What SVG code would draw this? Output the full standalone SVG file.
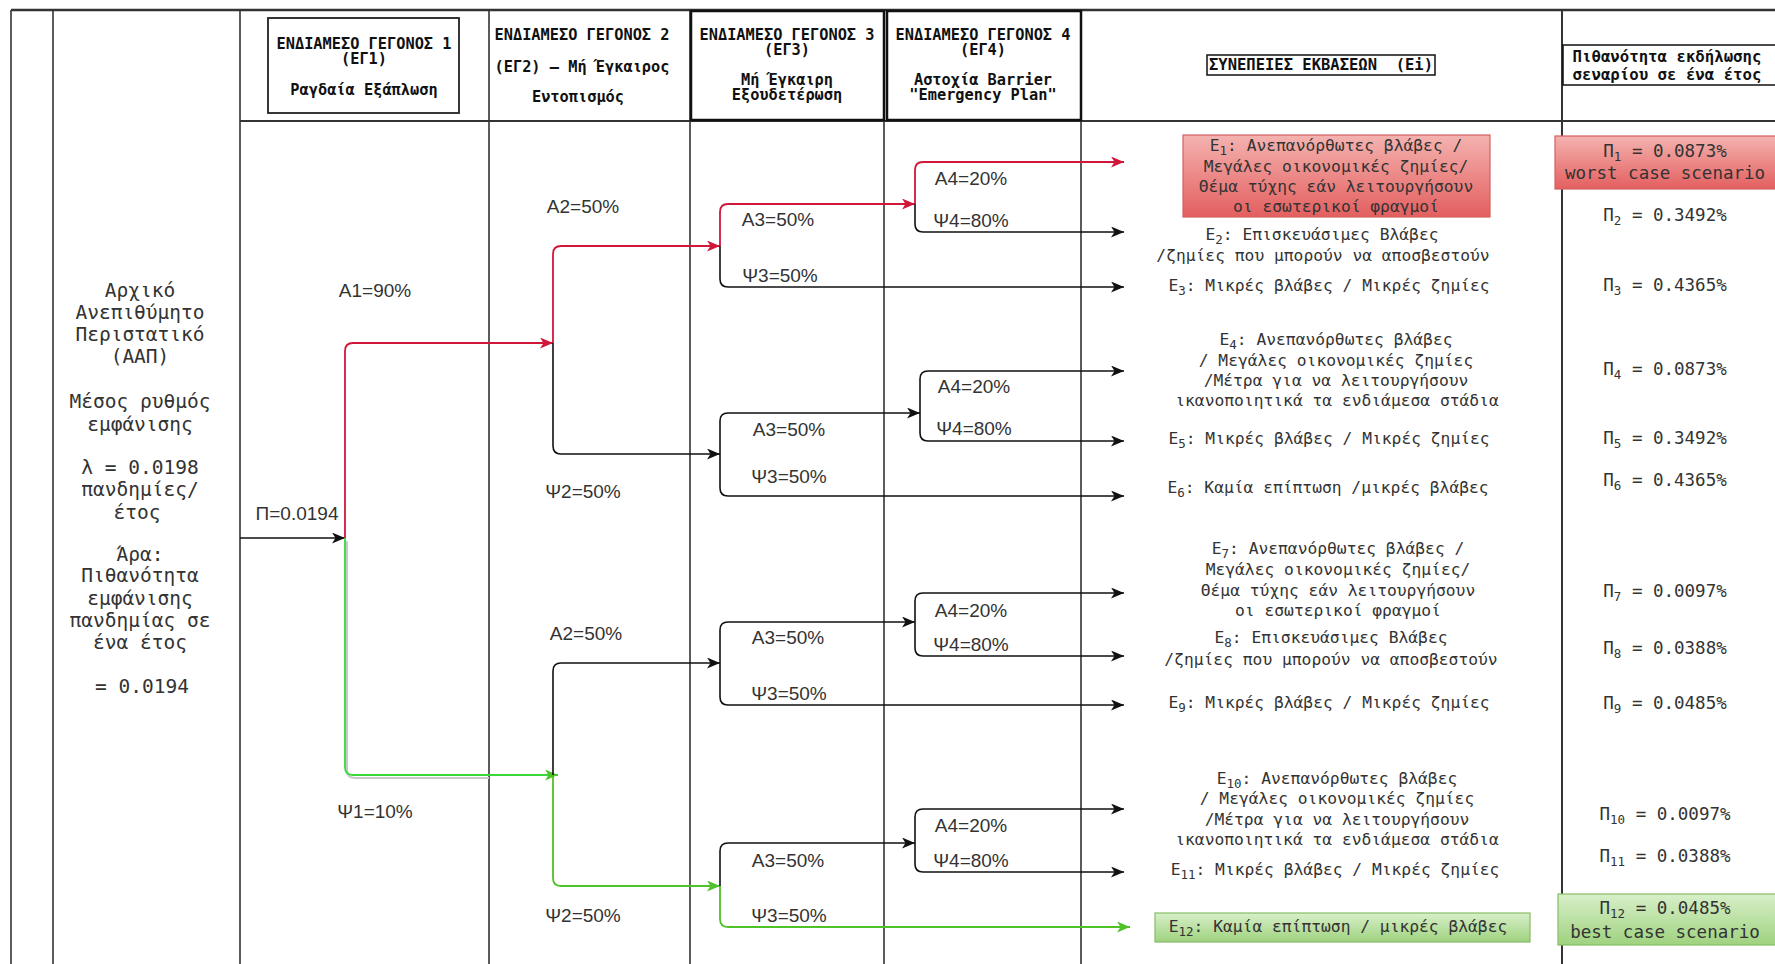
<svg xmlns="http://www.w3.org/2000/svg" width="1775" height="964" viewBox="0 0 1775 964">
<style>
.grid{stroke:#333;stroke-width:1.6;fill:none}
.hdr{font-family:"DejaVu Sans Mono","Liberation Mono",monospace;font-size:15.3px;font-weight:bold;fill:#111;text-anchor:middle}
.left{font-family:"DejaVu Sans Mono","Liberation Mono",monospace;font-size:19.5px;fill:#333;text-anchor:middle}
.et{font-family:"DejaVu Sans Mono","Liberation Mono",monospace;font-size:16.3px;fill:#333;text-anchor:middle}
.pt{font-family:"DejaVu Sans Mono","Liberation Mono",monospace;font-size:17.5px;fill:#333;text-anchor:middle}
.lbl{font-family:"Liberation Sans",Arial,sans-serif;font-size:19px;fill:#333;text-anchor:middle}
.blk{stroke:#111;stroke-width:1.6;fill:none;marker-end:url(#ab)}
.red{stroke:#d0173a;stroke-width:1.8;fill:none;marker-end:url(#ar)}
.grn{stroke:#4fc22a;stroke-width:1.8;fill:none;marker-end:url(#ag)}
.sub{font-size:12.5px}
</style>
<defs>
<marker id="ab" markerUnits="userSpaceOnUse" markerWidth="13" markerHeight="11" refX="13" refY="5.5" orient="auto"><path d="M0,0 L13,5.5 L0,11 L3.5,5.5 z" fill="#111"/></marker>
<marker id="ar" markerUnits="userSpaceOnUse" markerWidth="13" markerHeight="11" refX="13" refY="5.5" orient="auto"><path d="M0,0 L13,5.5 L0,11 L3.5,5.5 z" fill="#d0173a"/></marker>
<marker id="ag" markerUnits="userSpaceOnUse" markerWidth="13" markerHeight="11" refX="13" refY="5.5" orient="auto"><path d="M0,0 L13,5.5 L0,11 L3.5,5.5 z" fill="#4fc22a"/></marker>
<linearGradient id="gr" x1="0" y1="0" x2="0" y2="1"><stop offset="0" stop-color="#f4b3b0"/><stop offset="1" stop-color="#e35f5f"/></linearGradient>
<linearGradient id="gg" x1="0" y1="0" x2="0" y2="1"><stop offset="0" stop-color="#d8efc9"/><stop offset="1" stop-color="#9fd27f"/></linearGradient>
</defs>
<rect width="1775" height="964" fill="#fff"/>

<g id="grid">
<line class="grid" x1="11" y1="10" x2="1775" y2="10" style="stroke-width:2.5"/>
<line class="grid" x1="11" y1="10" x2="11" y2="964"/>
<line class="grid" x1="53" y1="10" x2="53" y2="964"/>
<line class="grid" x1="240" y1="10" x2="240" y2="964"/>
<line class="grid" x1="489" y1="10" x2="489" y2="964"/>
<line class="grid" x1="690" y1="10" x2="690" y2="964"/>
<line class="grid" x1="884" y1="10" x2="884" y2="964"/>
<line class="grid" x1="1081" y1="10" x2="1081" y2="964"/>
<line class="grid" x1="1562" y1="10" x2="1562" y2="964" style="stroke-width:2"/>
<line class="grid" x1="240" y1="121" x2="1775" y2="121" style="stroke-width:2"/>
</g>

<g id="header-eg1">
<rect x="268" y="18" width="191" height="95" fill="none" stroke="#222" stroke-width="1.8"/>
<text class="hdr" x="364" y="49">ΕΝΔΙΑΜΕΣΟ ΓΕΓΟΝΟΣ 1</text>
<text class="hdr" x="364" y="64">(ΕΓ1)</text>
<text class="hdr" x="364" y="95">Ραγδαία Εξάπλωση</text>
</g>
<g id="header-eg2">
<text class="hdr" x="582" y="40">ΕΝΔΙΑΜΕΣΟ ΓΕΓΟΝΟΣ 2</text>
<text class="hdr" x="582" y="72">(ΕΓ2) – Μή Έγκαιρος</text>
<text class="hdr" x="578" y="102">Εντοπισμός</text>
</g>
<g id="header-eg3">
<rect x="691" y="11" width="193" height="109" fill="none" stroke="#111" stroke-width="2.5"/>
<text class="hdr" x="787" y="40">ΕΝΔΙΑΜΕΣΟ ΓΕΓΟΝΟΣ 3</text>
<text class="hdr" x="787" y="55">(ΕΓ3)</text>
<text class="hdr" x="787" y="85">Μή Έγκαιρη</text>
<text class="hdr" x="787" y="100">Εξουδετέρωση</text>
</g>
<g id="header-eg4">
<rect x="887" y="11" width="194" height="109" fill="none" stroke="#111" stroke-width="2.5"/>
<text class="hdr" x="983" y="40">ΕΝΔΙΑΜΕΣΟ ΓΕΓΟΝΟΣ 4</text>
<text class="hdr" x="983" y="55">(ΕΓ4)</text>
<text class="hdr" x="983" y="85">Αστοχία Barrier</text>
<text class="hdr" x="983" y="100">"Emergency Plan"</text>
</g>
<g id="header-ei">
<rect x="1207" y="55" width="228" height="20" fill="none" stroke="#111" stroke-width="1.5"/>
<text class="hdr" x="1321" y="70" xml:space="preserve" style="font-size:15.5px">ΣΥΝΕΠΕΙΕΣ ΕΚΒΑΣΕΩΝ  (Ei)</text>
</g>
<g id="header-prob">
<rect x="1563" y="45" width="215" height="40" fill="none" stroke="#111" stroke-width="1.5"/>
<text class="hdr" x="1667" y="62" style="font-size:15.7px">Πιθανότητα εκδήλωσης</text>
<text class="hdr" x="1667" y="80" style="font-size:15.7px">σεναρίου σε ένα έτος</text>
</g>

<g id="aap">
<text class="left" x="140" y="297">Αρχικό</text>
<text class="left" x="140" y="319">Ανεπιθύμητο</text>
<text class="left" x="140" y="341">Περιστατικό</text>
<text class="left" x="140" y="363">(ΑΑΠ)</text>
<text class="left" x="140" y="408">Μέσος ρυθμός</text>
<text class="left" x="140" y="431">εμφάνισης</text>
<text class="left" x="140" y="474">λ = 0.0198</text>
<text class="left" x="140" y="496">πανδημίες/</text>
<text class="left" x="137" y="519">έτος</text>
<text class="left" x="140" y="561">Άρα:</text>
<text class="left" x="140" y="582">Πιθανότητα</text>
<text class="left" x="140" y="605">εμφάνισης</text>
<text class="left" x="140" y="627">πανδημίας σε</text>
<text class="left" x="140" y="649">ένα έτος</text>
<text class="left" x="142" y="693">= 0.0194</text>
</g>

<g id="connectors">
<path d="M347 541 V770 Q347 778 355 778 H489" stroke="#c8c8c8" stroke-width="2" fill="none"/>
<path class="blk" d="M240 538 H345"/>
<path class="red" d="M345 538 V351 Q345 343 353 343 H553"/>
<path class="grn" style="stroke:#38d838" d="M345 538 V767 Q345 775 353 775 H558"/>
<path class="red" d="M553 343 V254 Q553 246 561 246 H720"/>
<path class="blk" d="M553 343 V446 Q553 454 561 454 H720"/>
<path class="red" d="M720 246 V212 Q720 204 728 204 H915"/>
<path class="blk" d="M720 246 V279 Q720 287 728 287 H1124"/>
<path class="red" d="M915 204 V170 Q915 162 923 162 H1124"/>
<path class="blk" d="M915 204 V224 Q915 232 923 232 H1124"/>
<path class="blk" d="M720 454 V421 Q720 413 728 413 H920"/>
<path class="blk" d="M720 454 V488 Q720 496 728 496 H1124"/>
<path class="blk" d="M920 413 V379 Q920 371 928 371 H1124"/>
<path class="blk" d="M920 413 V433 Q920 441 928 441 H1124"/>
<path class="blk" d="M553 775 V671 Q553 663 561 663 H720"/>
<path class="grn" d="M553 775 V878 Q553 886 561 886 H720"/>
<path class="blk" d="M720 663 V630 Q720 622 728 622 H915"/>
<path class="blk" d="M720 663 V697 Q720 705 728 705 H1124"/>
<path class="blk" d="M915 622 V601 Q915 593 923 593 H1124"/>
<path class="blk" d="M915 622 V648 Q915 656 923 656 H1124"/>
<path class="blk" d="M720 886 V851 Q720 843 728 843 H915"/>
<path class="grn" d="M720 886 V919 Q720 927 728 927 H1130"/>
<path class="blk" d="M915 843 V817 Q915 809 923 809 H1124"/>
<path class="blk" d="M915 843 V864 Q915 872 923 872 H1124"/>
</g>

<g id="labels">
<text class="lbl" x="297" y="520">Π=0.0194</text>
<text class="lbl" x="375" y="297">Α1=90%</text>
<text class="lbl" x="375" y="818">Ψ1=10%</text>
<text class="lbl" x="583" y="213">Α2=50%</text>
<text class="lbl" x="583" y="498">Ψ2=50%</text>
<text class="lbl" x="586" y="640">Α2=50%</text>
<text class="lbl" x="583" y="922">Ψ2=50%</text>
<text class="lbl" x="778" y="226">Α3=50%</text>
<text class="lbl" x="780" y="282">Ψ3=50%</text>
<text class="lbl" x="789" y="436">Α3=50%</text>
<text class="lbl" x="789" y="483">Ψ3=50%</text>
<text class="lbl" x="788" y="644">Α3=50%</text>
<text class="lbl" x="789" y="700">Ψ3=50%</text>
<text class="lbl" x="788" y="867">Α3=50%</text>
<text class="lbl" x="789" y="922">Ψ3=50%</text>
<text class="lbl" x="971" y="185">Α4=20%</text>
<text class="lbl" x="971" y="227">Ψ4=80%</text>
<text class="lbl" x="974" y="393">Α4=20%</text>
<text class="lbl" x="974" y="435">Ψ4=80%</text>
<text class="lbl" x="971" y="617">Α4=20%</text>
<text class="lbl" x="971" y="651">Ψ4=80%</text>
<text class="lbl" x="971" y="832">Α4=20%</text>
<text class="lbl" x="971" y="867">Ψ4=80%</text>
</g>

<g id="e1">
<rect x="1183" y="135" width="307" height="82" fill="url(#gr)" stroke="#d46060" stroke-width="1.2"/>
<text class="et" x="1336" y="151">E<tspan class="sub" dy="4">1</tspan><tspan dy="-4">: Ανεπανόρθωτες βλάβες /</tspan></text>
<text class="et" x="1336" y="172">Μεγάλες οικονομικές ζημίες/</text>
<text class="et" x="1336" y="192">Θέμα τύχης εάν λειτουργήσουν</text>
<text class="et" x="1336" y="212">οι εσωτερικοί φραγμοί</text>
</g>
<g id="e2">
<text class="et" x="1322" y="240">E<tspan class="sub" dy="4">2</tspan><tspan dy="-4">: Επισκευάσιμες Βλάβες</tspan></text>
<text class="et" x="1323" y="261">/ζημίες που μπορούν να αποσβεστούν</text>
</g>
<g id="e3"><text class="et" x="1329" y="291">E<tspan class="sub" dy="4">3</tspan><tspan dy="-4">: Μικρές βλάβες / Μικρές ζημίες</tspan></text></g>
<g id="e4">
<text class="et" x="1336" y="345">E<tspan class="sub" dy="4">4</tspan><tspan dy="-4">: Ανεπανόρθωτες βλάβες</tspan></text>
<text class="et" x="1336" y="366">/ Μεγάλες οικονομικές ζημίες</text>
<text class="et" x="1336" y="386">/Μέτρα για να λειτουργήσουν</text>
<text class="et" x="1337" y="406">ικανοποιητικά τα ενδιάμεσα στάδια</text>
</g>
<g id="e5"><text class="et" x="1329" y="444">E<tspan class="sub" dy="4">5</tspan><tspan dy="-4">: Μικρές βλάβες / Μικρές ζημίες</tspan></text></g>
<g id="e6"><text class="et" x="1328" y="493">E<tspan class="sub" dy="4">6</tspan><tspan dy="-4">: Καμία επίπτωση /μικρές βλάβες</tspan></text></g>
<g id="e7">
<text class="et" x="1338" y="554">E<tspan class="sub" dy="4">7</tspan><tspan dy="-4">: Ανεπανόρθωτες βλάβες /</tspan></text>
<text class="et" x="1338" y="575">Μεγάλες οικονομικές ζημίες/</text>
<text class="et" x="1338" y="596">Θέμα τύχης εάν λειτουργήσουν</text>
<text class="et" x="1338" y="616">οι εσωτερικοί φραγμοί</text>
</g>
<g id="e8">
<text class="et" x="1331" y="643">E<tspan class="sub" dy="4">8</tspan><tspan dy="-4">: Επισκευάσιμες Βλάβες</tspan></text>
<text class="et" x="1331" y="665">/ζημίες που μπορούν να αποσβεστούν</text>
</g>
<g id="e9"><text class="et" x="1329" y="708">E<tspan class="sub" dy="4">9</tspan><tspan dy="-4">: Μικρές βλάβες / Μικρές ζημίες</tspan></text></g>
<g id="e10">
<text class="et" x="1337" y="784">E<tspan class="sub" dy="4">10</tspan><tspan dy="-4">: Ανεπανόρθωτες βλάβες</tspan></text>
<text class="et" x="1337" y="804">/ Μεγάλες οικονομικές ζημίες</text>
<text class="et" x="1337" y="825">/Μέτρα για να λειτουργήσουν</text>
<text class="et" x="1337" y="845">ικανοποιητικά τα ενδιάμεσα στάδια</text>
</g>
<g id="e11"><text class="et" x="1335" y="875">E<tspan class="sub" dy="4">11</tspan><tspan dy="-4">: Μικρές βλάβες / Μικρές ζημίες</tspan></text></g>
<g id="e12">
<rect x="1155" y="913" width="375" height="29" fill="url(#gg)" stroke="#86bd66" stroke-width="1.2"/>
<text class="et" x="1338" y="932">E<tspan class="sub" dy="4">12</tspan><tspan dy="-4">: Καμία επίπτωση / μικρές βλάβες</tspan></text>
</g>

<g id="p1">
<rect x="1555" y="136" width="222" height="53" fill="url(#gr)" stroke="#d46060" stroke-width="1.2"/>
<text class="pt" x="1665" y="157">Π<tspan class="sub" dy="4">1</tspan><tspan dy="-4"> = 0.0873%</tspan></text>
<text class="pt" x="1665" y="179">worst case scenario</text>
</g>
<g id="p2"><text class="pt" x="1665" y="221">Π<tspan class="sub" dy="4">2</tspan><tspan dy="-4"> = 0.3492%</tspan></text></g>
<g id="p3"><text class="pt" x="1665" y="291">Π<tspan class="sub" dy="4">3</tspan><tspan dy="-4"> = 0.4365%</tspan></text></g>
<g id="p4"><text class="pt" x="1665" y="375">Π<tspan class="sub" dy="4">4</tspan><tspan dy="-4"> = 0.0873%</tspan></text></g>
<g id="p5"><text class="pt" x="1665" y="444">Π<tspan class="sub" dy="4">5</tspan><tspan dy="-4"> = 0.3492%</tspan></text></g>
<g id="p6"><text class="pt" x="1665" y="486">Π<tspan class="sub" dy="4">6</tspan><tspan dy="-4"> = 0.4365%</tspan></text></g>
<g id="p7"><text class="pt" x="1665" y="597">Π<tspan class="sub" dy="4">7</tspan><tspan dy="-4"> = 0.0097%</tspan></text></g>
<g id="p8"><text class="pt" x="1665" y="654">Π<tspan class="sub" dy="4">8</tspan><tspan dy="-4"> = 0.0388%</tspan></text></g>
<g id="p9"><text class="pt" x="1665" y="709">Π<tspan class="sub" dy="4">9</tspan><tspan dy="-4"> = 0.0485%</tspan></text></g>
<g id="p10"><text class="pt" x="1665" y="820">Π<tspan class="sub" dy="4">10</tspan><tspan dy="-4"> = 0.0097%</tspan></text></g>
<g id="p11"><text class="pt" x="1665" y="862">Π<tspan class="sub" dy="4">11</tspan><tspan dy="-4"> = 0.0388%</tspan></text></g>
<g id="p12">
<rect x="1558" y="894" width="219" height="51" fill="url(#gg)" stroke="#86bd66" stroke-width="1.2"/>
<text class="pt" x="1665" y="914">Π<tspan class="sub" dy="4">12</tspan><tspan dy="-4"> = 0.0485%</tspan></text>
<text class="pt" x="1665" y="938">best case scenario</text>
</g>
</svg>
